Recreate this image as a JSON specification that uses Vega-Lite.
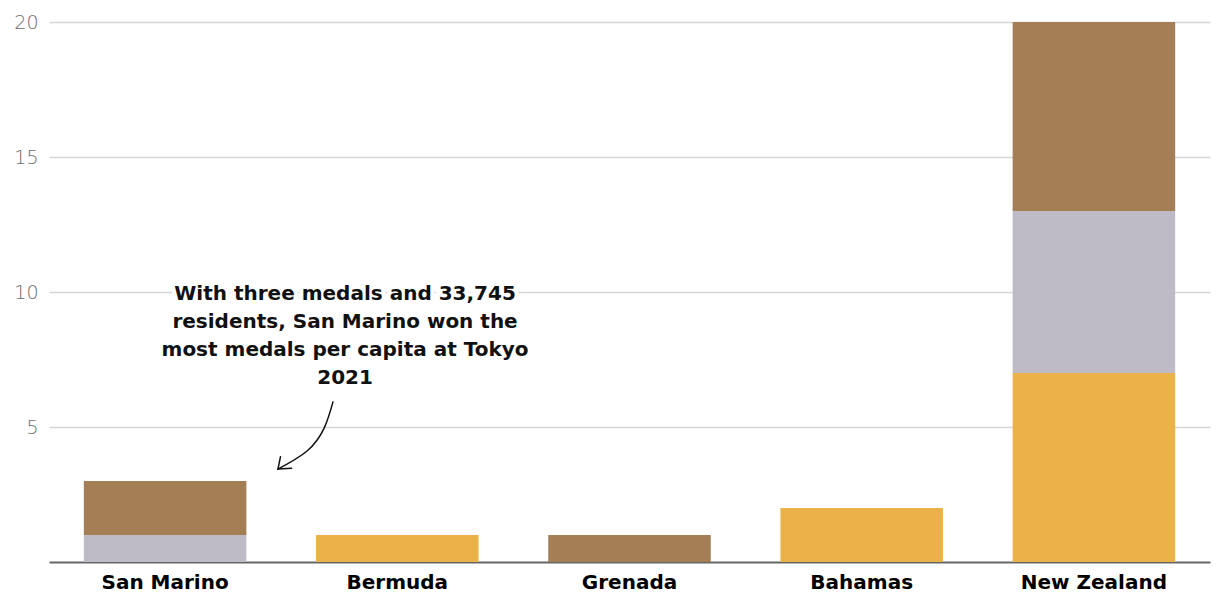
{
  "$schema": "https://vega.github.io/schema/vega-lite/v6.json",
  "width": 1161,
  "height": 540,
  "autosize": {"type": "none"},
  "padding": {"left": 49, "top": 22, "right": 10, "bottom": 50},
  "background": "white",
  "config": {
    "view": {"stroke": null},
    "font": "DejaVu Sans"
  },
  "datasets": {
    "medals": [
      {"country": "San Marino", "medal": "Gold", "rank": 1, "count": 0},
      {"country": "San Marino", "medal": "Silver", "rank": 2, "count": 1},
      {"country": "San Marino", "medal": "Bronze", "rank": 3, "count": 2},
      {"country": "Bermuda", "medal": "Gold", "rank": 1, "count": 1},
      {"country": "Grenada", "medal": "Bronze", "rank": 3, "count": 1},
      {"country": "Bahamas", "medal": "Gold", "rank": 1, "count": 2},
      {"country": "New Zealand", "medal": "Gold", "rank": 1, "count": 7},
      {"country": "New Zealand", "medal": "Silver", "rank": 2, "count": 6},
      {"country": "New Zealand", "medal": "Bronze", "rank": 3, "count": 7}
    ],
    "note": [
      {"x": 1.275, "y": 10.3, "label": ["With three medals and 33,745", "residents, San Marino won the", "most medals per capita at Tokyo", "2021"]}
    ],
    "arrow": [
      {"seg": "curve", "ord": 1, "x": 1.223, "y": 5.93},
      {"seg": "curve", "ord": 2, "x": 1.185, "y": 4.96},
      {"seg": "curve", "ord": 3, "x": 1.11, "y": 4.1},
      {"seg": "curve", "ord": 4, "x": 0.986, "y": 3.44},
      {"seg": "head1", "ord": 1, "x": 1.045, "y": 3.47},
      {"seg": "head1", "ord": 2, "x": 0.986, "y": 3.44},
      {"seg": "head2", "ord": 1, "x": 0.986, "y": 3.44},
      {"seg": "head2", "ord": 2, "x": 0.997, "y": 3.9}
    ]
  },
  "layer": [
    {
      "data": {"name": "medals"},
      "mark": {"type": "bar"},
      "encoding": {
        "x": {
          "field": "country",
          "type": "nominal",
          "sort": ["San Marino", "Bermuda", "Grenada", "Bahamas", "New Zealand"],
          "scale": {"paddingInner": 0.3, "paddingOuter": 0.15},
          "axis": {
            "title": null,
            "labelAngle": 0,
            "labelFontSize": 20,
            "labelFontWeight": "bold",
            "labelColor": "#000000",
            "labelPadding": 10,
            "ticks": false,
            "domainColor": "#666666",
            "domainWidth": 2,
            "grid": false
          }
        },
        "y": {
          "field": "count",
          "type": "quantitative",
          "stack": "zero",
          "scale": {"domain": [0, 20]},
          "axis": {
            "title": null,
            "values": [5, 10, 15, 20],
            "labelFontSize": 19,
            "labelFontWeight": 300,
            "labelColor": "#6b6b6b",
            "labelPadding": 11,
            "ticks": false,
            "domain": false,
            "gridColor": "#d6d6d6",
            "gridWidth": 1.5
          }
        },
        "color": {
          "field": "medal",
          "type": "nominal",
          "scale": {"domain": ["Gold", "Silver", "Bronze"], "range": ["#ECB24A", "#BEBBC7", "#A47E55"]},
          "legend": null
        },
        "order": {"field": "rank", "type": "quantitative"}
      }
    },
    {
      "data": {"name": "note"},
      "mark": {"type": "text", "fontSize": 20, "fontWeight": "bold", "align": "center", "baseline": "top", "lineHeight": 28, "stroke": "white", "strokeWidth": 8, "fill": "white"},
      "encoding": {
        "x": {"field": "x", "type": "quantitative", "scale": {"domain": [0, 5]}, "axis": null},
        "y": {"field": "y", "type": "quantitative"},
        "text": {"field": "label"}
      }
    },
    {
      "data": {"name": "note"},
      "mark": {"type": "text", "fontSize": 20, "fontWeight": "bold", "align": "center", "baseline": "top", "lineHeight": 28, "color": "#111111"},
      "encoding": {
        "x": {"field": "x", "type": "quantitative", "scale": {"domain": [0, 5]}, "axis": null},
        "y": {"field": "y", "type": "quantitative"},
        "text": {"field": "label"}
      }
    },
    {
      "data": {"name": "arrow"},
      "mark": {"type": "line", "color": "#111111", "strokeWidth": 1.5, "interpolate": "natural", "strokeCap": "round"},
      "encoding": {
        "x": {"field": "x", "type": "quantitative", "scale": {"domain": [0, 5]}, "axis": null},
        "y": {"field": "y", "type": "quantitative"},
        "detail": {"field": "seg"},
        "order": {"field": "ord", "type": "quantitative"}
      }
    }
  ],
  "resolve": {"scale": {"x": "independent"}}
}
